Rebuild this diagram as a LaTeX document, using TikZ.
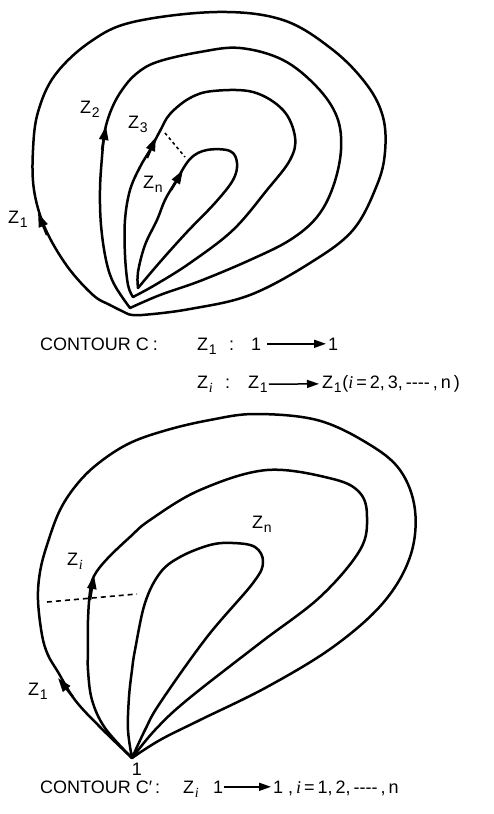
\documentclass[tikz,border=0pt]{standalone}
\usepackage{fontspec}
\setmainfont{Liberation Sans}
\newfontfamily\ifontfam{Liberation Serif}
\usetikzlibrary{arrows.meta}
\newcommand\ii{{\ifontfam\itshape i}}
\newcommand\zsub[1]{Z\kern0.8pt\raisebox{-0.5ex}{\fontsize{14}{14}\selectfont #1}}
\begin{document}
\begin{tikzpicture}[x=1pt,y=-1pt,
  curve/.style={line width=2.5pt, line join=round, line cap=round},
  head/.style={-{Triangle[length=14pt,width=9pt]}, line width=2.5pt},
  dots/.style={line width=1.6pt, dash pattern=on 3pt off 3pt},
  lbl/.style={inner sep=0pt, anchor=base west, font=\fontsize{18}{20}\selectfont},
  txt/.style={inner sep=0pt, anchor=base west, font=\fontsize{18}{20}\selectfont},
  tarrow/.style={-{Triangle[length=12pt,width=8pt]}, line width=1.5pt}]
\useasboundingbox (0,0) rectangle (494,814);

% ---------- top diagram ----------
\draw[curve] plot[smooth, tension=0.6] coordinates {
 (128,314) (110,305) (93,295) (67,266) (45,228) (34,190) (33,150) (38,112)
 (55,75) (90,42) (133,22) (217,12) (283,20) (333,50) (367,85) (383,117) (385,152)
 (377,185) (353,230) (310,263) (250,295) (190,309) (142,315) (128,314)};
\draw[curve] plot[smooth, tension=0.6] coordinates {
 (130,308) (114,284) (106,260) (101,225) (100,190) (102,157) (105,130)
 (112,108) (122,90) (136,74) (157,62) (200,52) (240,48) (283,60) (317,87)
 (337,117) (341,150) (333,187) (317,217) (290,240) (250,260) (200,281)
 (160,295) (130,308)};
\draw[curve] plot[smooth, tension=0.6] coordinates {
 (133,297) (128,285) (125,255) (125,220) (130,190) (140,167) (150,150)
 (160,131) (170,114) (190,98) (213,91) (253,92) (283,110) (295,137) (290,160)
 (267,190) (233,230) (190,263) (155,285) (133,297)};
\draw[curve] plot[smooth, tension=0.6] coordinates {
 (138,288) (138,272) (145,245) (157,220) (165,200) (175,183) (190,159)
 (207,150) (230,151) (237,163) (233,180) (215,203) (187,232) (160,262) (138,288)};

\draw[head] (47,235) -- (38,213);
\draw[head] (102,150) -- (106,126);
\draw[head] (147,158) -- (156,137);
\draw[head] (171,190) -- (183,170);
\draw[dots] (165,133) -- (185,157);

\node[lbl] (z1t) at (8,223) {\zsub{1}};
\node[lbl] (z2t) at (80,113) {\zsub{2}};
\node[lbl] (z3t) at (128,128) {\zsub{3}};
\node[lbl] (znt) at (143,188) {\zsub{n}};

% ---------- text lines ----------
\node[txt] (t1a) at (40,350) {CONTOUR C\hspace{4pt}:};
\node[txt] (t1b) at (197,350) {\zsub{1}};
\node[txt] (t1c) at (229,350) {:};
\node[txt] (t1d) at (251,350) {1};
\node[txt] (t1e) at (328,350) {1};
\draw[tarrow] ([xshift=6pt]t1d.east) -- ([xshift=-2pt]t1e.west);

\node[txt] (t2a) at (197,388) {\zsub{\ii}};
\node[txt] (t2b) at (225,388) {:};
\node[txt] (t2c) at (248,388) {\zsub{1}};
\node[txt] (t2d) at (322,388) {\zsub{1}\kern0.5pt(\ii\,=\,2,\,3,\,{-}{-}{-}{-}\,,\,n\,)};
\draw[tarrow] ([xshift=1pt]t2c.east) -- ([xshift=-3pt]t2d.west);

% ---------- bottom diagram ----------
\draw[curve] plot[smooth, tension=0.6] coordinates {
 (132,758) (100,727) (75,700) (58,672) (48,655) (42,635) (38,600) (40,572)
 (47,545) (60,510) (78,483) (100,462) (130,443) (167,430) (210,420) (255,414)
 (317,420) (367,443) (400,470) (415,510) (410,557) (383,603) (333,647)
 (267,687) (200,720) (160,740) (132,758)};
\draw[curve] plot[smooth, tension=0.6] coordinates {
 (132,758) (105,728) (92,700) (88,670) (88,650) (88,620) (90,592) (94,576)
 (107,559) (130,537) (150,520) (200,490) (267,470) (333,479) (360,493)
 (367,517) (360,550) (320,597) (260,643) (187,700) (155,730) (132,758)};
\draw[curve] plot[smooth, tension=0.6] coordinates {
 (132,758) (128,730) (129,697) (132,670) (135,650) (145,603) (160,573)
 (180,557) (210,545) (233,543) (255,547) (263,562) (253,583)
 (207,637) (160,703) (145,730) (132,758)};

\draw[head] (73,697) -- (58,678);
\draw[head] (90,600) -- (94,575);
\draw[dots, dash pattern=on 5pt off 4pt] (47,602) -- (137,594);

\node[lbl] (z1b) at (28,695) {\zsub{1}};
\node[lbl] (zib) at (67,565) {\zsub{\ii}};
\node[lbl] (znb) at (252,528) {\zsub{n}};
\node[txt, anchor=base] (one) at (137,775) {1};

\node[txt] (t3a) at (40,793) {CONTOUR C\char"2032\hspace{3pt}:};
\node[txt] (t3b) at (183,793) {\zsub{\ii}};
\node[txt] (t3c) at (213,793) {1};
\node[txt] (t3d) at (273,793) {1};
\node[txt] (t3e) at (288,793) {,\,\ii\,=\,1,\,2,\,{-}{-}{-}{-}\,,\,n};
\draw[tarrow] ([xshift=1pt]t3c.east) -- ([xshift=-2pt]t3d.west);
\end{tikzpicture}
\end{document}
